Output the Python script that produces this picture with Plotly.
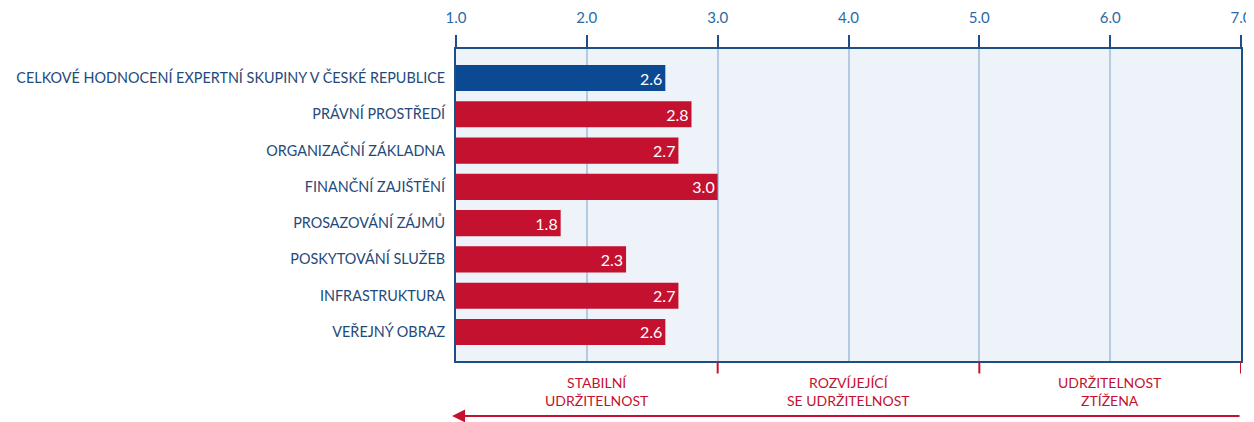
import plotly.graph_objects as go

categories = [
    "CELKOVÉ HODNOCENÍ EXPERTNÍ SKUPINY V ČESKÉ REPUBLICE",
    "PRÁVNÍ PROSTŘEDÍ",
    "ORGANIZAČNÍ ZÁKLADNA",
    "FINANČNÍ ZAJIŠTĚNÍ",
    "PROSAZOVÁNÍ ZÁJMŮ",
    "POSKYTOVÁNÍ SLUŽEB",
    "INFRASTRUKTURA",
    "VEŘEJNÝ OBRAZ",
]
values = [2.6, 2.8, 2.7, 3.0, 1.8, 2.3, 2.7, 2.6]
bar_colors = ["#0b4a92"] + ["#c3112f"] * 7
tick_vals = [1, 2, 3, 4, 5, 6, 7]
tick_text = ["1.0", "2.0", "3.0", "4.0", "5.0", "6.0", "7.0"]
zone_edges = [3, 5, 7]
zone_labels = ["STABILNÍ<br>UDRŽITELNOST", "ROZVÍJEJÍCÍ<br>SE UDRŽITELNOST", "UDRŽITELNOST<br>ZTÍŽENA"]
zone_centers = [2.08, 4.0, 6.0]

BLUE = "#1d4f86"
RED = "#c3112f"
FONT = "Lato"

fig = go.Figure()
fig.add_trace(go.Bar(
    x=[v - 1 for v in values],
    base=1,
    y=categories,
    orientation="h",
    marker=dict(color=bar_colors, line=dict(width=0)),
    width=0.72,
    text=[f"{v:.1f}" for v in values],
    textposition="inside",
    insidetextanchor="end",
    textfont=dict(color="white", size=16, family=FONT),
    hoverinfo="skip",
    cliponaxis=False,
))

shapes = []
for e in zone_edges:
    shapes.append(dict(type="line", xref="x", yref="paper", x0=e, x1=e, y0=0, y1=-0.04,
                       line=dict(color=RED, width=2)))
fig.update_layout(shapes=shapes)

for c, t in zip(zone_centers, zone_labels):
    fig.add_annotation(x=c, y=-0.035, xref="x", yref="paper", text=t, showarrow=False,
                       yanchor="top", font=dict(color=RED, size=14, family=FONT), align="center")

fig.add_annotation(x=0.97, y=-0.176, xref="x", yref="paper", axref="x", ayref="pixel",
                   ax=7.0, ay=0, text="", showarrow=True, arrowhead=2, arrowsize=1.3,
                   arrowwidth=2, arrowcolor=RED)

fig.update_layout(
    width=1246, height=414,
    margin=dict(l=448, r=13, t=41, b=61),
    paper_bgcolor="white",
    plot_bgcolor="#eef3fa",
    showlegend=False,
    xaxis=dict(
        side="top", range=[1, 7], tickvals=tick_vals, ticktext=tick_text,
        ticks="outside", ticklen=12, tickwidth=2, tickcolor=BLUE,
        showline=True, linecolor=BLUE, linewidth=2, mirror=True,
        showgrid=True, gridcolor="#b3cbe2", gridwidth=2, zeroline=False,
        tickfont=dict(color="#2b6aa6", size=15, family=FONT),
        ticklabelstandoff=6, automargin=False,
    ),
    yaxis=dict(
        range=[7.8, -0.8], showline=True, linecolor=BLUE, linewidth=2, mirror=True,
        ticks="", showgrid=False, zeroline=False, ticklabelstandoff=6,
        tickfont=dict(color="#1f4a7a", size=14.4, family=FONT),
        automargin=False,
    ),
    font=dict(family=FONT),
)

fig.write_html("out.html")
